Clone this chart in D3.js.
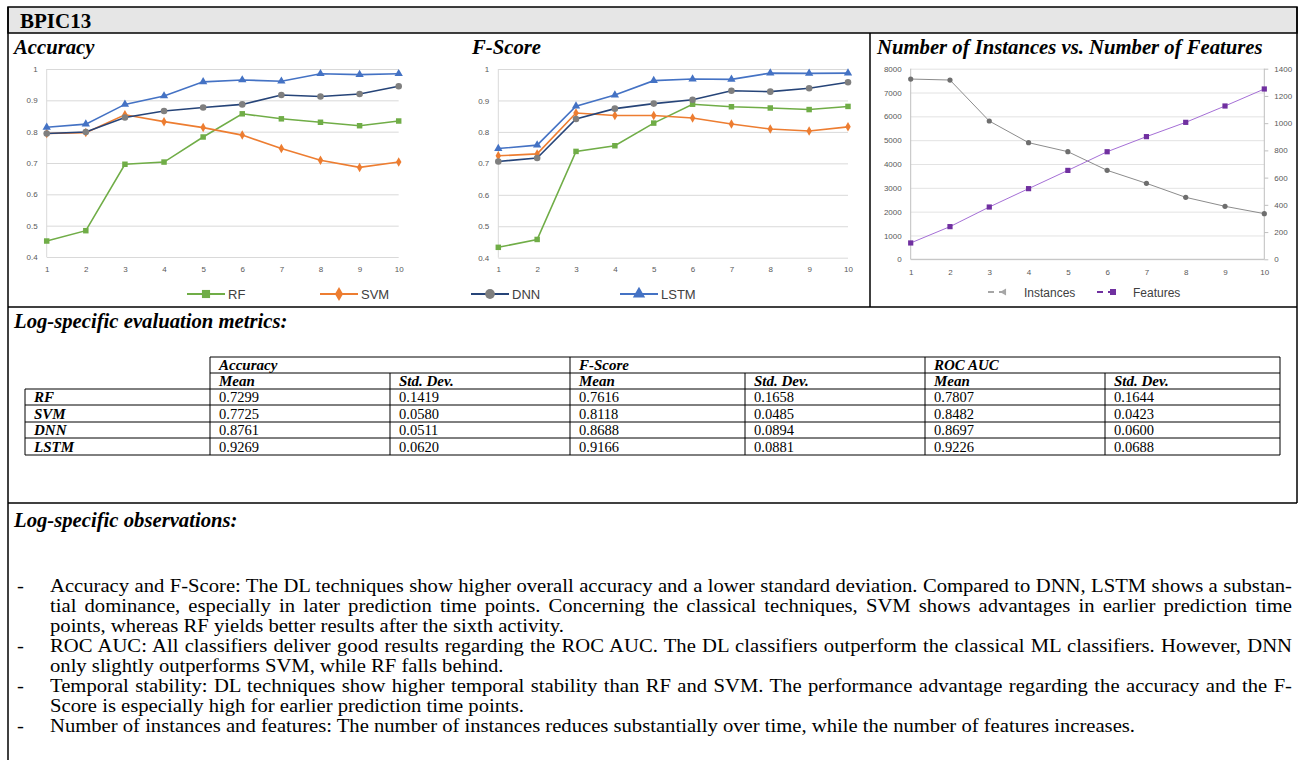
<!DOCTYPE html>
<html>
<head>
<meta charset="utf-8">
<script src="https://cdn.jsdelivr.net/npm/d3@7"></script>
<style>
  body { margin: 0; background: #fff; }
  #page { position: relative; width: 1300px; height: 760px; overflow: hidden; }
  #page svg { position: absolute; left: 0; top: 0; }
  .obs {
    position: absolute;
    font-family: "Liberation Serif", "Times New Roman", serif;
    font-size: 18px;
    line-height: 20px;
    color: #000;
    white-space: nowrap;
    transform: scaleX(1.1465);
    transform-origin: 0 0;
  }
  .obs.just { white-space: normal; text-align: justify; text-align-last: justify; }
</style>
</head>
<body>
<div id="page"></div>
<script>
// ---- data ----
const steps = [1, 2, 3, 4, 5, 6, 7, 8, 9, 10];
const models = ['RF', 'SVM', 'DNN', 'LSTM'];

const accRF   = [0.451, 0.484, 0.696, 0.703, 0.783, 0.857, 0.841, 0.830, 0.819, 0.834];
const accSVM  = [0.794, 0.797, 0.854, 0.832, 0.813, 0.789, 0.746, 0.709, 0.686, 0.703];
const accDNN  = [0.794, 0.799, 0.845, 0.866, 0.877, 0.887, 0.917, 0.912, 0.920, 0.945];
const accLSTM = [0.814, 0.824, 0.887, 0.914, 0.959, 0.965, 0.961, 0.985, 0.982, 0.985];

const fsRF   = [0.433, 0.458, 0.738, 0.756, 0.828, 0.888, 0.880, 0.876, 0.871, 0.881];
const fsSVM  = [0.724, 0.730, 0.860, 0.852, 0.852, 0.844, 0.825, 0.809, 0.803, 0.816];
const fsDNN  = [0.706, 0.717, 0.841, 0.874, 0.890, 0.902, 0.931, 0.928, 0.939, 0.958];
const fsLSTM = [0.747, 0.758, 0.882, 0.917, 0.963, 0.968, 0.967, 0.987, 0.986, 0.987];

const instances = [7566, 7524, 5804, 4895, 4517, 3734, 3189, 2601, 2224, 1916];
const features  = [120, 240, 384, 519, 653, 790, 901, 1006, 1126, 1251];

const metricTicks = [0.4, 0.5, 0.6, 0.7, 0.8, 0.9, 1];
const instTicks = [0, 1000, 2000, 3000, 4000, 5000, 6000, 7000, 8000];
const featTicks = [0, 200, 400, 600, 800, 1000, 1200, 1400];

const tableGroups = ['Accuracy', 'F-Score', 'ROC AUC'];
const tableSub = ['Mean', 'Std. Dev.'];
const accMean = ['0.7299', '0.7725', '0.8761', '0.9269'];
const accStd  = ['0.1419', '0.0580', '0.0511', '0.0620'];
const fsMean  = ['0.7616', '0.8118', '0.8688', '0.9166'];
const fsStd   = ['0.1658', '0.0485', '0.0894', '0.0881'];
const rocMean = ['0.7807', '0.8482', '0.8697', '0.9226'];
const rocStd  = ['0.1644', '0.0423', '0.0600', '0.0688'];

const observations = [
  ['Accuracy and F-Score: The DL techniques show higher overall accuracy and a lower standard deviation. Compared to DNN, LSTM shows a substan-',
   'tial dominance, especially in later prediction time points. Concerning the classical techniques, SVM shows advantages in earlier prediction time',
   'points, whereas RF yields better results after the sixth activity.'],
  ['ROC AUC: All classifiers deliver good results regarding the ROC AUC. The DL classifiers outperform the classical ML classifiers. However, DNN',
   'only slightly outperforms SVM, while RF falls behind.'],
  ['Temporal stability: DL techniques show higher temporal stability than RF and SVM. The performance advantage regarding the accuracy and the F-',
   'Score is especially high for earlier prediction time points.'],
  ['Number of instances and features: The number of instances reduces substantially over time, while the number of features increases.']
];

// ---- styles ----
const SERIF = '"Liberation Serif", "Times New Roman", serif';
const SANS = '"Liberation Sans", Arial, sans-serif';
const seriesStyle = {
  RF:   { line: '#70ad47', marker: '#70ad47', symbol: d3.symbolSquare, size: 30 },
  SVM:  { line: '#ed7d31', marker: '#ed7d31', symbol: d3.symbolDiamond, size: 26 },
  DNN:  { line: '#264478', marker: '#7f7f7f', symbol: d3.symbolCircle, size: 34 },
  LSTM: { line: '#4472c4', marker: '#4472c4', symbol: d3.symbolTriangle, size: 30 }
};

const svg = d3.select('#page').append('svg')
    .attr('width', 1300)
    .attr('height', 760);

// ---- frame ----
const frame = svg.append('g').attr('stroke', '#000').attr('stroke-width', 1.5).attr('fill', 'none');
frame.append('rect').attr('x', 8).attr('y', 7).attr('width', 1289).attr('height', 26).attr('fill', '#e6e6e6');
frame.append('line').attr('x1', 8).attr('x2', 8).attr('y1', 7).attr('y2', 760);
frame.append('line').attr('x1', 1297).attr('x2', 1297).attr('y1', 7).attr('y2', 503);
frame.append('line').attr('x1', 870).attr('x2', 870).attr('y1', 33).attr('y2', 307);
frame.append('line').attr('x1', 8).attr('x2', 1297).attr('y1', 307).attr('y2', 307);
frame.append('line').attr('x1', 8).attr('x2', 1297).attr('y1', 503).attr('y2', 503);

svg.append('text')
    .attr('x', 20).attr('y', 28)
    .style('font', `bold 21px ${SERIF}`)
    .text('BPIC13');

const chartTitle = (x, text) => {
  svg.append('text')
      .attr('x', x).attr('y', 54)
      .style('font', `italic bold 20.7px ${SERIF}`)
      .text(text);
};

// ---- metric line charts ----
const styleTicks = g => {
  g.select('.domain').remove();
  g.selectAll('text').style('font', `8px ${SANS}`).attr('fill', '#595959');
};

const drawMetricChart = (title, titleX, x0, x1, y0, y1, series) => {
  chartTitle(titleX, title);

  const xScale = d3.scalePoint().domain(steps).range([x0, x1]);
  const yScale = d3.scaleLinear().domain([0.4, 1]).range([y0, y1]);
  const g = svg.append('g');

  // gridlines + y labels
  g.append('g')
      .attr('transform', `translate(${x0},0)`)
      .call(d3.axisLeft(yScale).tickValues(metricTicks).tickSize(-(x1 - x0)).tickPadding(9)
        .tickFormat(d => d === 1 ? '1' : d3.format('.1f')(d)))
      .call(styleTicks)
      .call(a => a.selectAll('line').attr('stroke', '#d9d9d9'));

  g.append('line')
      .attr('x1', x0).attr('x2', x0).attr('y1', y1).attr('y2', y0)
      .attr('stroke', '#d9d9d9');

  // x labels
  g.append('g')
      .attr('transform', `translate(0,${y0})`)
      .call(d3.axisBottom(xScale).tickSize(0).tickPadding(9))
      .call(styleTicks);

  const line = d3.line().x((d, i) => xScale(steps[i])).y(d => yScale(d));

  series.forEach(([name, values]) => {
    const st = seriesStyle[name];
    g.append('path')
        .attr('d', line(values))
        .attr('fill', 'none')
        .attr('stroke', st.line)
        .attr('stroke-width', 1.6);
    g.selectAll(null)
      .data(values)
      .enter()
      .append('path')
        .attr('d', d3.symbol(st.symbol, st.size))
        .attr('transform', (d, i) => `translate(${xScale(steps[i])},${yScale(d)})`)
        .attr('fill', st.marker);
  });
};

drawMetricChart('Accuracy', 14, 46.7, 398.7, 257, 69,
  [['RF', accRF], ['SVM', accSVM], ['DNN', accDNN], ['LSTM', accLSTM]]);
drawMetricChart('F-Score', 472, 498.3, 848, 257.7, 69,
  [['RF', fsRF], ['SVM', fsSVM], ['DNN', fsDNN], ['LSTM', fsLSTM]]);

// shared legend
const legendX = [187, 320, 471, 620];
models.forEach((name, i) => {
  const st = seriesStyle[name];
  const lg = svg.append('g').attr('transform', `translate(${legendX[i]},294)`);
  lg.append('line').attr('x1', 0).attr('x2', 38).attr('stroke', st.line).attr('stroke-width', 2.2);
  lg.append('path').attr('d', d3.symbol(st.symbol, st.size * 2.2)).attr('transform', 'translate(19,0)').attr('fill', st.marker);
  lg.append('text').attr('x', 41).attr('y', 4.5)
      .style('font', `13px ${SANS}`).attr('fill', '#404040')
      .text(name);
});

// ---- instances vs features ----
chartTitle(877, 'Number of Instances vs. Number of Features');

const nx0 = 910.7, nx1 = 1264.3, ny0 = 259.3, ny1 = 68.7;
const nxScale = d3.scalePoint().domain(steps).range([nx0, nx1]);
const instScale = d3.scaleLinear().domain([0, 8000]).range([ny0, ny1]);
const featScale = d3.scaleLinear().domain([0, 1400]).range([ny0, ny1]);
const ng = svg.append('g');

ng.append('g')
    .attr('transform', `translate(${nx0},0)`)
    .call(d3.axisLeft(instScale).tickValues(instTicks).tickSize(-(nx1 - nx0)).tickPadding(9).tickFormat(d3.format('d')))
    .call(styleTicks)
    .call(a => a.selectAll('line').attr('stroke', '#e3e3e3'));

ng.append('g')
    .attr('transform', `translate(${nx1},0)`)
    .call(d3.axisRight(featScale).tickValues(featTicks).tickSize(4).tickPadding(6).tickFormat(d3.format('d')))
    .call(styleTicks)
    .call(a => a.selectAll('line').attr('stroke', '#bfbfbf'));

ng.append('g')
    .attr('transform', `translate(0,${ny0})`)
    .call(d3.axisBottom(nxScale).tickSize(0).tickPadding(10))
    .call(styleTicks);

[[nx0, nx0, ny1, ny0], [nx1, nx1, ny1, ny0], [nx0, nx1, ny0, ny0]].forEach(([a, b, c, d]) => {
  ng.append('line').attr('x1', a).attr('x2', b).attr('y1', c).attr('y2', d).attr('stroke', '#bfbfbf');
});

ng.append('path')
    .attr('d', d3.line().x((d, i) => nxScale(steps[i])).y(d => instScale(d))(instances))
    .attr('fill', 'none').attr('stroke', '#8c8c8c').attr('stroke-width', 1);
ng.selectAll(null).data(instances).enter().append('circle')
    .attr('cx', (d, i) => nxScale(steps[i])).attr('cy', d => instScale(d))
    .attr('r', 2.6).attr('fill', '#6e6e6e');

ng.append('path')
    .attr('d', d3.line().x((d, i) => nxScale(steps[i])).y(d => featScale(d))(features))
    .attr('fill', 'none').attr('stroke', '#a56fd6').attr('stroke-width', 1);
ng.selectAll(null).data(features).enter().append('rect')
    .attr('x', (d, i) => nxScale(steps[i]) - 2.6).attr('y', d => featScale(d) - 2.6)
    .attr('width', 5.2).attr('height', 5.2).attr('fill', '#7030a0');

// legend
const il = svg.append('g').attr('transform', 'translate(988,292)');
il.append('line').attr('x1', 0).attr('x2', 20).attr('stroke', '#a6a6a6').attr('stroke-width', 2).attr('stroke-dasharray', '6,5');
il.append('path').attr('d', d3.symbol(d3.symbolTriangle, 22)).attr('transform', 'translate(16,0) rotate(30)').attr('fill', '#a6a6a6');
il.append('text').attr('x', 36).attr('y', 4.5).style('font', `12px ${SANS}`).attr('fill', '#404040').text('Instances');

const fl = svg.append('g').attr('transform', 'translate(1097,292)');
fl.append('line').attr('x1', 0).attr('x2', 20).attr('stroke', '#7030a0').attr('stroke-width', 2).attr('stroke-dasharray', '6,5');
fl.append('rect').attr('x', 13).attr('y', -3).attr('width', 6).attr('height', 6).attr('fill', '#7030a0');
fl.append('text').attr('x', 36).attr('y', 4.5).style('font', `12px ${SANS}`).attr('fill', '#404040').text('Features');

// ---- evaluation table ----
svg.append('text')
    .attr('x', 14).attr('y', 328)
    .style('font', `italic bold 20.7px ${SERIF}`)
    .text('Log-specific evaluation metrics:');

const colX = [25, 210, 390, 570, 745, 925, 1105, 1280];
const rowY = [357, 373, 389, 405, 422, 438, 455];
const tg = svg.append('g').attr('stroke', '#000').attr('stroke-width', 1);

[[210, 1280, rowY[0]], [210, 1280, rowY[1]]].concat(rowY.slice(2).map(y => [25, 1280, y]))
  .forEach(([a, b, y]) => tg.append('line').attr('x1', a).attr('x2', b).attr('y1', y).attr('y2', y));
[210, 570, 925, 1280].forEach(x => tg.append('line').attr('x1', x).attr('x2', x).attr('y1', rowY[0]).attr('y2', rowY[6]));
[390, 745, 1105].forEach(x => tg.append('line').attr('x1', x).attr('x2', x).attr('y1', rowY[1]).attr('y2', rowY[6]));
tg.append('line').attr('x1', 25).attr('x2', 25).attr('y1', rowY[2]).attr('y2', rowY[6]);

const cellText = (x, y, text, style, size) => {
  svg.append('text').attr('x', x + 9).attr('y', y - 3.5)
      .style('font', `${style} ${size}px ${SERIF}`)
      .text(text);
};

tableGroups.forEach((t, i) => cellText(colX[1 + i * 2], rowY[1], t, 'italic bold', 15));
for (let i = 0; i < 6; i++) cellText(colX[1 + i], rowY[2], tableSub[i % 2], 'italic bold', 15);
const tableCols = [accMean, accStd, fsMean, fsStd, rocMean, rocStd];
models.forEach((m, r) => {
  cellText(colX[0], rowY[3 + r], m, 'italic bold', 15);
  tableCols.forEach((col, c) => cellText(colX[1 + c], rowY[3 + r], col[r], 'normal', 14.5));
});

// ---- observations ----
svg.append('text')
    .attr('x', 14).attr('y', 527)
    .style('font', `italic bold 20.7px ${SERIF}`)
    .text('Log-specific observations:');

const page = d3.select('#page');
const obsScale = 1.1465;
let lineTop = 576;
observations.forEach(para => {
  page.append('div').attr('class', 'obs').style('left', '17px').style('top', `${lineTop}px`).text('-');
  para.forEach((txt, i) => {
    const justified = i < para.length - 1;
    page.append('div')
        .attr('class', justified ? 'obs just' : 'obs')
        .style('left', '50px')
        .style('top', `${lineTop}px`)
        .style('width', justified ? `${1242 / obsScale}px` : null)
        .text(txt);
    lineTop += 20;
  });
});
</script>
</body>
</html>
